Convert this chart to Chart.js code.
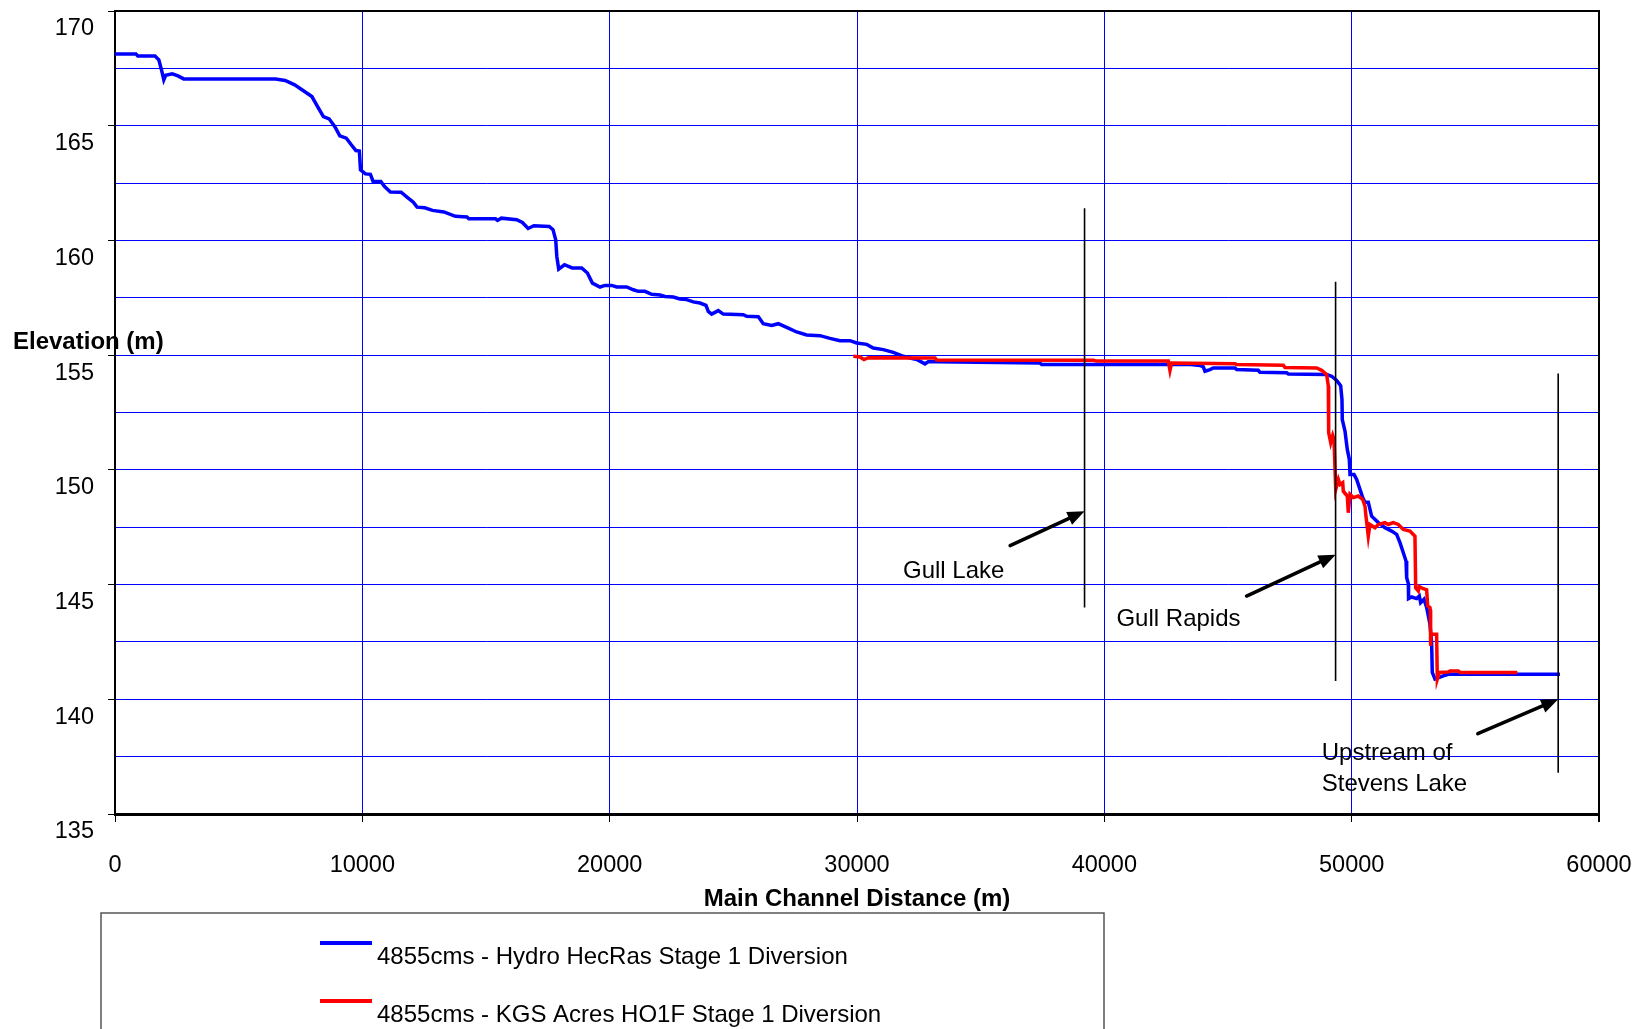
<!DOCTYPE html>
<html><head><meta charset="utf-8">
<script src="https://cdn.jsdelivr.net/npm/chart.js@4.4.0/dist/chart.umd.min.js"></script>
<style>html,body{margin:0;padding:0;background:#fff}canvas{display:block}</style>
</head><body>
<canvas id="c" width="1637" height="1029"></canvas>
<script>
// ---- data ----
const seriesNames = ['4855cms - Hydro HecRas Stage 1 Diversion', '4855cms - KGS Acres HO1F Stage 1 Diversion'];
const hecrasDist = [0,845,920,1617,1772,1880,1973,2050,2313,2547,2777,6490,6877,7265,7573,7961,8191,8426,8657,8890,9089,9352,9553,9740,9880,9926,10128,10326,10436,10747,10900,11134,11567,11830,12061,12214,12525,12836,13298,13763,14228,14305,15388,15465,15619,16238,16472,16703,16936,17555,17709,17818,17863,17940,18174,18481,18869,19100,19302,19609,19811,20081,20283,20688,20956,21157,21428,21699,22034,22237,22573,22843,23112,23381,23652,23894,23987,24124,24392,24594,25402,25539,26010,26212,26550,26818,27222,27560,27965,28503,28907,29312,29716,29986,30391,30659,31063,31467,31872,32276,32413,32748,32883,33220,37398,37466,43500,43866,44001,44069,44270,44405,45282,45350,46225,46292,47371,47439,48989,49191,49393,49555,49608,49621,49730,49823,49905,49933,50095,50202,50336,50445,50538,50672,50807,51077,51346,51616,51818,51953,52088,52197,52224,52291,52300,52426,52628,52735,52789,52923,53032,53165,53233,53259,53368,53543,53705,53907,58421];
const hecrasElev = [168.13,168.13,168.04,168.04,167.87,167.43,167.00,167.20,167.26,167.17,167.04,167.04,166.97,166.78,166.56,166.27,165.83,165.40,165.30,164.96,164.56,164.46,164.17,163.92,163.90,163.08,162.90,162.88,162.57,162.57,162.35,162.11,162.10,161.87,161.67,161.45,161.42,161.31,161.24,161.05,161.02,160.94,160.94,160.87,160.97,160.90,160.78,160.52,160.64,160.61,160.47,160.03,159.30,158.75,158.94,158.80,158.80,158.58,158.14,157.97,158.04,158.04,157.97,157.97,157.85,157.78,157.78,157.65,157.62,157.56,157.53,157.45,157.42,157.32,157.27,157.17,156.91,156.79,156.94,156.79,156.76,156.69,156.67,156.37,156.29,156.37,156.18,156.01,155.88,155.85,155.73,155.63,155.63,155.53,155.47,155.31,155.24,155.12,154.95,154.84,154.81,154.62,154.71,154.71,154.66,154.59,154.59,154.55,154.49,154.30,154.37,154.44,154.44,154.37,154.34,154.25,154.23,154.18,154.16,154.08,153.90,153.67,153.07,152.19,151.69,150.89,150.46,149.80,149.80,149.58,149.15,148.79,148.59,148.59,147.98,147.70,147.48,147.33,147.19,146.83,146.39,146.03,145.30,145.04,144.39,144.46,144.39,144.50,144.21,144.36,144.00,143.27,142.47,141.17,140.88,140.95,141.02,141.09,141.09];
const acresDist = [29851,30120,30282,30457,33153,33220,39554,39689,42586,42654,42721,45282,45350,47236,47304,48584,48787,48989,49056,49070,49153,49234,49287,49355,49462,49529,49638,49662,49823,49863,49933,50066,50270,50445,50538,50578,50672,50740,50942,51077,51346,51481,51683,51885,52088,52357,52559,52588,52695,52735,52897,53032,53072,53165,53180,53192,53210,53273,53435,53462,53543,53907,53975,54312,54379,56695];
const acresElev = [154.95,154.92,154.81,154.89,154.88,154.79,154.78,154.74,154.74,154.33,154.66,154.63,154.59,154.56,154.46,154.44,154.34,154.15,153.65,151.62,151.18,151.50,151.32,149.15,149.58,149.36,149.44,149.07,148.86,148.13,148.93,148.79,148.86,148.71,148.42,147.98,147.11,147.62,147.48,147.62,147.70,147.62,147.70,147.62,147.40,147.33,147.11,144.86,144.72,144.91,144.82,144.77,144.07,144.00,143.90,142.33,142.85,142.83,142.83,140.88,141.17,141.19,141.23,141.23,141.17,141.17];
const xTickValues = [0,10000,20000,30000,40000,50000,60000];
const yLabelValues = [135,140,145,150,155,160,165,170];
const xTitle = 'Main Channel Distance (m)';
const yTitle = 'Elevation (m)';
// location markers (data coordinates)
const markerLabels = [['Gull Lake'], ['Gull Rapids'], ['Upstream of', 'Stevens Lake']];
const markerDist = [39200, 49350, 58350];
const markerTopElev = [161.4, 158.2, 154.2];
const markerBottomElev = [144.0, 140.8, 136.8];
const arrowTipElev = [148.2, 146.3, 140.0];
const arrowTailDist = [36190, 45750, 55100];
const arrowTailElev = [146.7, 144.5, 138.5];
const labelDist = [31860, 40490, 48790];
const labelElev = [145.57, 143.47, 137.65];

// ---- chart ----
const FONT = "'Liberation Sans', Arial, Helvetica, sans-serif";
Chart.defaults.font.family = FONT;
Chart.defaults.color = '#000';

function toPts(xs, ys) { return xs.map((x, i) => ({x: x, y: ys[i]})); }

function arrow(ctx, x1, y1, x2, y2) {
  const ang = Math.atan2(y2 - y1, x2 - x1);
  const hl = 17, hw = 7;
  const bx = x2 - hl * Math.cos(ang), by = y2 - hl * Math.sin(ang);
  ctx.beginPath();
  ctx.moveTo(x1, y1); ctx.lineTo(bx, by);
  ctx.lineWidth = 3.5; ctx.strokeStyle = '#000'; ctx.lineCap = 'round';
  ctx.stroke();
  ctx.beginPath();
  ctx.moveTo(x2, y2);
  ctx.lineTo(bx + hw * Math.sin(ang), by - hw * Math.cos(ang));
  ctx.lineTo(bx - hw * Math.sin(ang), by + hw * Math.cos(ang));
  ctx.closePath();
  ctx.fillStyle = '#000'; ctx.fill();
}

const decor = {
  id: 'decor',
  afterDatasetsDraw(chart) {
    const {ctx, scales: {x, y}, chartArea: a} = chart;
    ctx.save();
    // frame top / right
    ctx.strokeStyle = '#000'; ctx.lineWidth = 2;
    ctx.beginPath();
    ctx.moveTo(a.left, a.top); ctx.lineTo(a.right, a.top); ctx.lineTo(a.right, a.bottom + 8);
    ctx.stroke();
    // markers
    for (let i = 0; i < markerDist.length; i++) {
      const mx = x.getPixelForValue(markerDist[i]);
      ctx.beginPath();
      ctx.moveTo(mx, y.getPixelForValue(markerTopElev[i]));
      ctx.lineTo(mx, y.getPixelForValue(markerBottomElev[i]));
      ctx.lineWidth = 1.6; ctx.strokeStyle = '#000'; ctx.lineCap = 'butt';
      ctx.stroke();
      arrow(ctx, x.getPixelForValue(arrowTailDist[i]), y.getPixelForValue(arrowTailElev[i]),
            mx, y.getPixelForValue(arrowTipElev[i]));
      ctx.fillStyle = '#000';
      ctx.font = '24px ' + FONT;
      ctx.textAlign = 'left'; ctx.textBaseline = 'middle';
      const lx = x.getPixelForValue(labelDist[i]);
      const ly = y.getPixelForValue(labelElev[i]);
      markerLabels[i].forEach((t, k) => ctx.fillText(t, lx, ly + k * 31));
    }
    ctx.restore();
  },
  afterDraw(chart) {
    const {ctx} = chart;
    ctx.save();
    // y axis title (horizontal)
    ctx.fillStyle = '#000';
    ctx.font = 'bold 24px ' + FONT;
    ctx.textAlign = 'left'; ctx.textBaseline = 'middle';
    ctx.fillText(yTitle, 13, 342);
    // legend box
    ctx.strokeStyle = '#555'; ctx.lineWidth = 1.5;
    ctx.strokeRect(101, 913, 1003, 140);
    const colors = ['#0000ff', '#ff0000'];
    const rows = [943, 1001];
    ctx.font = '24px ' + FONT;
    for (let i = 0; i < 2; i++) {
      ctx.beginPath();
      ctx.moveTo(320, rows[i]); ctx.lineTo(372, rows[i]);
      ctx.lineWidth = 4; ctx.strokeStyle = colors[i]; ctx.stroke();
      ctx.fillStyle = '#000';
      ctx.fillText(seriesNames[i], 377, rows[i] + 14);
    }
    ctx.restore();
  }
};

new Chart(document.getElementById('c'), {
  type: 'line',
  data: {
    datasets: [
      {label: seriesNames[0], data: toPts(hecrasDist, hecrasElev), borderColor: '#0000ff', backgroundColor: '#0000ff', borderWidth: 3.5, pointRadius: 0, tension: 0, order: 2},
      {label: seriesNames[1], data: toPts(acresDist, acresElev), borderColor: '#ff0000', backgroundColor: '#ff0000', borderWidth: 3.5, pointRadius: 0, tension: 0, order: 1}
    ]
  },
  options: {
    responsive: false,
    animation: false,
    devicePixelRatio: 1,
    layout: {padding: {top: 11, right: 38, left: 0, bottom: 0}},
    plugins: {legend: {display: false}, tooltip: {enabled: false}},
    scales: {
      x: {
        type: 'linear', min: 0, max: 60000,
        afterBuildTicks: s => { s.ticks = xTickValues.map(v => ({value: v})); },
        afterFit: s => { s.height = 215; s.paddingLeft = 0; s.paddingRight = 0; },
        grid: {color: '#0000ff', lineWidth: 1, drawTicks: true, tickLength: 8, tickColor: '#000'},
        border: {color: '#000', width: 3},
        ticks: {font: {size: 23.5}, padding: 29, maxRotation: 0, autoSkip: false, color: '#000',
                callback: v => String(v)},
        title: {display: true, text: xTitle, font: {size: 24, weight: 'bold'}, padding: {top: 0, bottom: 115}, color: '#000'}
      },
      y: {
        type: 'linear', min: 135, max: 170,
        ticks: {
          stepSize: 2.5, autoSkip: false, font: {size: 23.5}, padding: 14, labelOffset: 18, color: '#000',
          callback: v => yLabelValues.includes(v) ? String(v) : ''
        },
        afterFit: s => { s.width = 115; s.paddingTop = 0; s.paddingBottom = 0; },
        grid: {color: '#0000ff', lineWidth: 1, drawTicks: true, tickLength: 7,
               tickColor: c => (c.tick && yLabelValues.includes(c.tick.value)) ? '#000' : 'rgba(0,0,0,0)'},
        border: {color: '#000', width: 2}
      }
    }
  },
  plugins: [decor]
});
</script>
</body></html>
